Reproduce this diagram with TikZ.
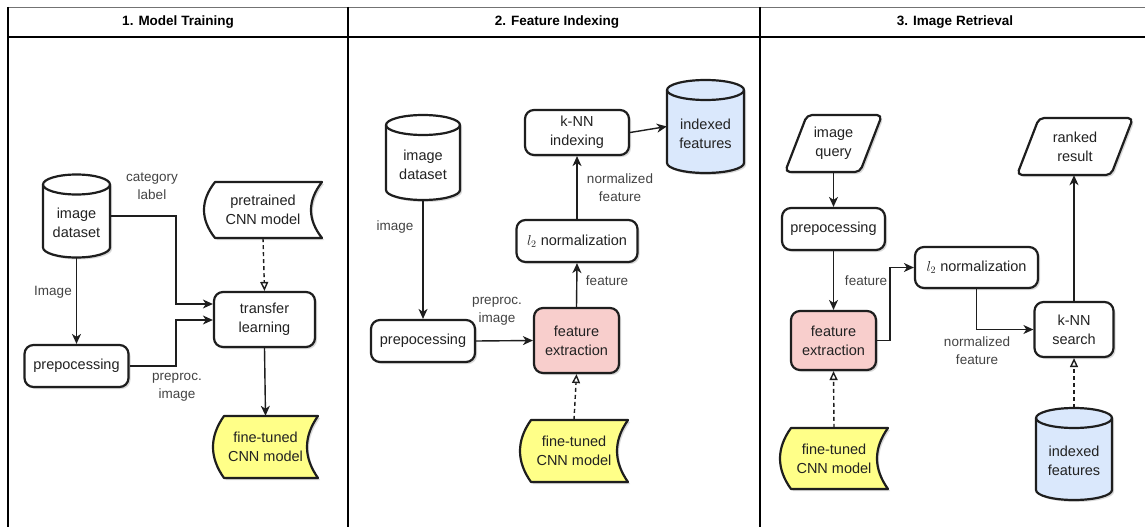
\documentclass[tikz,border=0pt]{standalone}
\usepackage{fontspec}
\setmainfont{Liberation Sans}
\usetikzlibrary{arrows.meta,shadows}

\definecolor{ink}{HTML}{222222}
\definecolor{edge}{HTML}{1E1E1E}
\definecolor{pinkfill}{HTML}{F8CECC}
\definecolor{yellowfill}{HTML}{FFFF88}
\definecolor{bluefill}{HTML}{DAE8FC}

\tikzset{
  txt/.style={font=\fontsize{14.5}{19}\selectfont, text=ink, align=center, inner sep=0pt},
  lbl/.style={font=\fontsize{13.5}{18}\selectfont, text=ink!85, align=center, inner sep=0pt},
  shapeline/.style={draw=edge, line width=2.2pt, line join=round},
  shade/.style={drop shadow={shadow xshift=2pt, shadow yshift=-2pt, opacity=0.15, fill=black}},
  procbox/.style={txt, shapeline, shade, rounded corners=9pt, fill=white},
  flow/.style={draw=edge, line width=1.4pt, -{Stealth[length=10pt,width=9pt,inset=3pt]}},
  model/.style={draw=edge, line width=1.4pt, dash pattern=on 4pt off 3pt,
    -{Triangle[open,length=9pt,width=8pt,fill=white]}},
  frame/.style={draw=black, line width=1.2pt},
  title/.style={font=\fontsize{13.5}{16}\selectfont\bfseries, text=black, inner sep=0pt},
}

% cylinder store: name, cx, cy, width, height, fill, text
\newcommand\cylnode[7]{%
  \pgfmathsetmacro\sxL{#2-#4/2}\pgfmathsetmacro\sxR{#2+#4/2}%
  \pgfmathsetmacro\syT{#3-#5/2}\pgfmathsetmacro\syB{#3+#5/2}%
  \pgfmathsetmacro\srx{#4/2}%
  \path[shapeline, shade, fill=#6] (\sxL,\syT+10) -- (\sxL,\syB-10)
    arc[start angle=180, end angle=360, x radius=\srx pt, y radius=10pt]
    -- (\sxR,\syT+10)
    arc[start angle=0, end angle=180, x radius=\srx pt, y radius=10pt] -- cycle;
  \draw[shapeline] (\sxL,\syT+10)
    arc[start angle=180, end angle=360, x radius=\srx pt, y radius=10pt];
  \node[minimum width=#4pt, minimum height=#5pt, inner sep=0pt] (#1) at (#2,#3) {};
  \node[txt] (#1-t) at (#2,#3+7) {#7};
}

% stored-data shape (curved sides): name, cx, cy, width, height, fill, text
\newcommand\storenode[7]{%
  \pgfmathsetmacro\sxL{#2-#4/2}\pgfmathsetmacro\sxR{#2+#4/2}%
  \pgfmathsetmacro\syT{#3-#5/2}\pgfmathsetmacro\syB{#3+#5/2}%
  \pgfmathsetmacro\sha{#5/3}%
  \path[shapeline, shade, fill=#6] (\sxL+11,\syT) -- (\sxR,\syT)
    .. controls (\sxR-14.67,\syT+\sha) and (\sxR-14.67,\syB-\sha) .. (\sxR,\syB)
    -- (\sxL+11,\syB)
    .. controls (\sxL-3.67,\syB-\sha) and (\sxL-3.67,\syT+\sha) .. (\sxL+11,\syT) -- cycle;
  \node[minimum width=#4pt, minimum height=#5pt, inner sep=0pt] (#1) at (#2,#3) {};
  \node[txt] (#1-t) at (#2,#3) {#7};
}

% input/output parallelogram: name, cx, cy, width, height, text
\newcommand\ionode[6]{%
  \pgfmathsetmacro\sxL{#2-#4/2}\pgfmathsetmacro\sxR{#2+#4/2}%
  \pgfmathsetmacro\syT{#3-#5/2}\pgfmathsetmacro\syB{#3+#5/2}%
  \path[shapeline, shade, fill=white, rounded corners=5pt] (\sxL+22,\syT) -- (\sxR,\syT)
    -- (\sxR-22,\syB) -- (\sxL,\syB) -- cycle;
  \node[minimum width=#4pt, minimum height=#5pt, inner sep=0pt] (#1) at (#2,#3) {};
  \node[txt] (#1-t) at (#2,#3) {#6};
}

\begin{document}
\begin{tikzpicture}[x=1pt, y=-1pt]
\useasboundingbox (0,0) rectangle (1145,527);
\fill[white] (0,0) rectangle (1145,527);

% swimlane frame
\draw[draw=black!55, line width=0.9pt] (8,7) -- (1145,7);
\draw[frame, line width=1.6pt] (8,37) -- (1145,37);
\draw[frame, line width=1.5pt] (8,7) -- (8,527);
\draw[frame] (348,7) -- (348,527);
\draw[frame] (760,7) -- (760,527);
\node[title] (h1) at (178,22) {1. Model Training};
\node[title] (h2) at (557,22) {2. Feature Indexing};
\node[title] (h3) at (955,22) {3. Image Retrieval};

% ---------- 1. Model Training ----------
\cylnode{ds1}{76.5}{216}{67}{83}{white}{image\\dataset}
\storenode{pt}{263}{210}{118}{56}{white}{pretrained\\CNN model}
\node[procbox, minimum width=104pt, minimum height=42pt] (pre1) at (76.5,366) {prepocessing};
\node[procbox, minimum width=101pt, minimum height=55pt] (tl) at (264.5,319.5) {transfer\\learning};
\storenode{ft1}{265.5}{447}{105}{62}{yellowfill}{fine-tuned\\CNN model}

\coordinate (j1) at (176,304);
\coordinate (j2) at (176,320);
\draw[flow] (ds1.east) -| (j1) -- (j1 -| tl.west);
\draw[flow] (ds1.south) -- (pre1.north);
\draw[flow] (pre1.east) -| (j2) -- (j2 -| tl.west);
\draw[model] (pt.south) -- (tl.north);
\draw[flow] (tl.south) -- (ft1.north);

\node[lbl] (lb1) at (152,186) {category\\label};
\node[lbl] (lb2) at (53,292) {Image};
\node[lbl] (lb3) at (177,387) {preproc.\\image};

% ---------- 2. Feature Indexing ----------
\cylnode{ds2}{423}{157.5}{74}{85}{white}{image\\dataset}
\node[procbox, minimum width=104pt, minimum height=42pt] (pre2) at (423,341) {prepocessing};
\node[procbox, fill=pinkfill, minimum width=85pt, minimum height=65pt] (fe2) at (576.5,340.5) {feature\\extraction};
\node[procbox, minimum width=121pt, minimum height=42pt] (l2a) at (577,241) {$l_2$ normalization};
\node[procbox, minimum width=104pt, minimum height=45pt] (kn1) at (577,132.5) {k-NN\\indexing};
\cylnode{if2}{705.5}{126.5}{77}{93}{bluefill}{indexed\\features}
\storenode{ft2}{574}{451}{108}{62}{yellowfill}{fine-tuned\\CNN model}

\draw[flow] (ds2.south) -- (pre2.north);
\draw[flow] (pre2.east) -- (fe2.west);
\draw[flow] (fe2.north) -- (l2a.south);
\draw[flow] (l2a.north) -- (kn1.south);
\draw[flow] (kn1.east) -- (if2.west);
\draw[model] (ft2.north) -- (fe2.south);

\node[lbl] (lb4) at (395,227) {image};
\node[lbl] (lb5) at (497,311) {preproc.\\image};
\node[lbl] (lb6) at (607,281) {feature};
\node[lbl] (lb7) at (620,188) {normalized\\feature};

% ---------- 3. Image Retrieval ----------
\ionode{iq}{833.5}{143.5}{97}{57}{image\\query}
\node[procbox, minimum width=103pt, minimum height=42pt] (pre3) at (833.5,229) {prepocessing};
\node[procbox, fill=pinkfill, minimum width=85pt, minimum height=59pt] (fe3) at (833.5,340.5) {feature\\extraction};
\node[procbox, minimum width=123pt, minimum height=41pt] (l2b) at (976.5,267.5) {$l_2$ normalization};
\node[procbox, minimum width=79pt, minimum height=55pt] (kn2) at (1074,329.5) {k-NN\\search};
\ionode{rr}{1075}{146.5}{116}{57}{ranked\\result}
\cylnode{if3}{1074}{454}{76}{92}{bluefill}{indexed\\features}
\storenode{ft3}{834}{458.5}{108}{61}{yellowfill}{fine-tuned\\CNN model}

\coordinate (j3) at (890,267.5);
\draw[flow] (iq.south) -- (pre3.north);
\draw[flow] (pre3.south) -- (fe3.north);
\draw[flow] (fe3.east) -| (j3) -- (l2b.west);
\draw[flow] (l2b.south) |- (kn2.west);
\draw[flow] (kn2.north) -- (kn2.north |- rr.south);
\draw[model] (if3.north) -- (kn2.south);
\draw[model] (ft3.north) -- (fe3.south);

\node[lbl] (lb8) at (866,281) {feature};
\node[lbl] (lb9) at (977,351) {normalized\\feature};
\end{tikzpicture}
\end{document}
